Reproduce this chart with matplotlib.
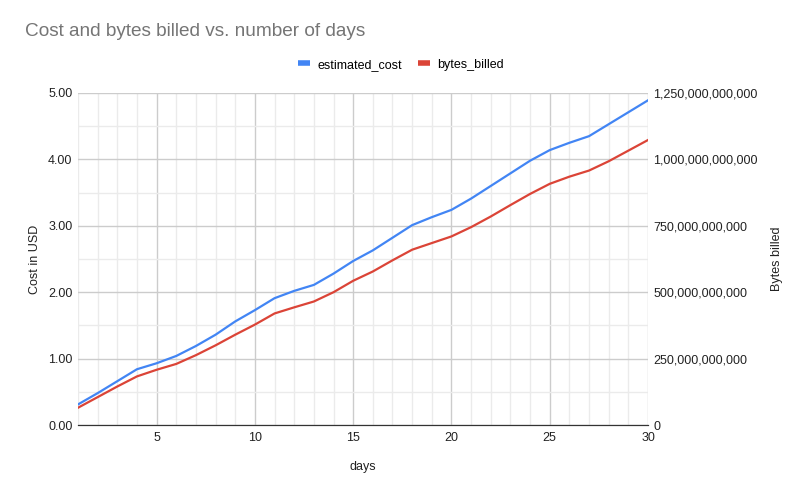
import matplotlib.pyplot as plt
from matplotlib.ticker import FuncFormatter, MultipleLocator

plt.rcParams['font.family'] = ['Liberation Sans', 'DejaVu Sans']

days = list(range(1, 31))
# estimated cost in USD
estimated_cost = [0.31, 0.48, 0.66, 0.84, 0.93, 1.04, 1.19, 1.36, 1.56, 1.73,
                  1.91, 2.02, 2.11, 2.28, 2.47, 2.63, 2.82, 3.01, 3.13, 3.24,
                  3.41, 3.60, 3.79, 3.98, 4.14, 4.25, 4.35, 4.53, 4.71, 4.89]
# bytes billed
bytes_billed = [6.5e10, 1.05e11, 1.45e11, 1.83e11, 2.08e11, 2.30e11, 2.63e11, 3.00e11, 3.40e11, 3.78e11,
                4.20e11, 4.43e11, 4.65e11, 5.00e11, 5.43e11, 5.78e11, 6.20e11, 6.60e11, 6.85e11, 7.10e11,
                7.45e11, 7.85e11, 8.28e11, 8.70e11, 9.08e11, 9.35e11, 9.58e11, 9.93e11, 1.033e12, 1.073e12]

BLUE = '#4285F4'
RED = '#DB4437'

fig = plt.figure(figsize=(8, 4.91), dpi=100)
ax = fig.add_axes([0.0975, 0.1344, 0.7125, 0.6762])
ax2 = ax.twinx()

l1, = ax.plot(days, estimated_cost, color=BLUE, lw=1.6, label='estimated_cost')
l2, = ax2.plot(days, bytes_billed, color=RED, lw=1.6, label='bytes_billed')

ax.set_xlim(1, 30)
ax.set_ylim(0, 5)
ax2.set_ylim(0, 1.25e12)

ax.xaxis.set_major_locator(MultipleLocator(5))
ax.xaxis.set_minor_locator(MultipleLocator(1))
ax.yaxis.set_major_locator(MultipleLocator(1))
ax.yaxis.set_minor_locator(MultipleLocator(0.5))
ax2.yaxis.set_major_locator(MultipleLocator(2.5e11))
ax.yaxis.set_major_formatter(FuncFormatter(lambda v, p: '%.2f' % v))
ax2.yaxis.set_major_formatter(FuncFormatter(lambda v, p: '{:,.0f}'.format(v)))

ax.grid(which='major', color='#cccccc', lw=1)
ax.grid(which='minor', color='#ebebeb', lw=1)
ax.set_axisbelow(True)

for a in (ax, ax2):
    for s in ('top', 'left', 'right'):
        a.spines[s].set_visible(False)
    a.spines['bottom'].set_color('#333333')
    a.tick_params(which='both', length=0, labelsize=9, colors='#222222')
ax.tick_params(axis='y', pad=4)
ax2.tick_params(axis='y', pad=4)
ax.tick_params(axis='x', pad=5)

ax.set_xlabel('days', fontsize=9, color='#222222', labelpad=12)
ax.set_ylabel('Cost in USD', fontsize=9, color='#222222', labelpad=5)
ax2.set_ylabel('Bytes billed', fontsize=9, color='#222222', labelpad=9)

fig.text(0.031, 0.935, 'Cost and bytes billed vs. number of days', fontsize=13.7,
         color='#757575', va='center', ha='left')

fig.legend(handles=[l1, l2], loc='center', bbox_to_anchor=(0.501, 0.868), ncol=2,
           frameon=False, fontsize=9, handlelength=0.95, handletextpad=0.6,
           columnspacing=1.3)
for h in fig.legends[0].legend_handles:
    h.set_linewidth(4)
    h.set_solid_capstyle('butt')

fig.savefig('out.png', dpi=100)
